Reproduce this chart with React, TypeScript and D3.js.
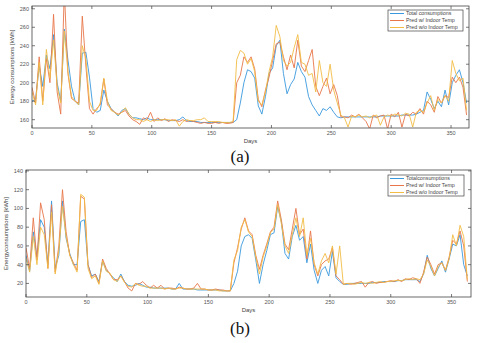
import React from 'react'
import * as d3 from 'd3'

// one sample every 3 days (day = index * STEP)
const STEP = 3

const A_TOTAL = [
  180, 182, 218, 196, 230, 215, 252, 200, 180, 258, 225, 196, 180, 176, 232, 233, 206, 172, 168, 170,
  192, 180, 172, 168, 164, 170, 172, 166, 162, 162, 161, 160, 162, 160, 160, 160, 160, 160, 159, 159,
  159, 160, 163, 159, 158, 158, 158, 157, 157, 157, 157, 157, 157, 157, 157, 157, 157, 160, 178, 200,
  214, 212, 205, 175, 166, 185, 210, 216, 240, 246, 210, 188, 198, 204, 222, 212, 206, 185, 176, 170,
  164, 172, 170, 174, 168, 163, 162, 163, 163, 163, 163, 163, 163, 163, 163, 163, 163, 164, 164, 164,
  164, 164, 164, 165, 165, 165, 165, 166, 168, 170, 190, 182, 172, 180, 174, 192, 176, 200, 208, 214,
  200, 178
]
const A_PRED_IN = [
  195, 178, 228, 180, 226, 200, 274, 190, 166, 300, 210, 183, 180, 178, 272, 218, 172, 166, 172, 176,
  204, 176, 172, 168, 166, 168, 170, 164, 160, 158, 155, 162, 160, 168, 158, 162, 159, 161, 158, 160,
  159, 158, 160, 158, 159, 158, 157, 156, 157, 156, 156, 157, 156, 157, 156, 156, 157, 200, 208, 228,
  222, 228, 215, 182, 174, 192, 206, 224, 242, 244, 228, 214, 230, 216, 246, 218, 212, 224, 236, 196,
  186, 196, 205, 188, 198, 186, 163, 163, 162, 165, 163, 166, 162, 158, 150, 165, 162, 164, 165, 150,
  166, 163, 168, 152, 166, 164, 168, 166, 172, 166, 180, 176, 168, 185, 178, 186, 184, 206, 200, 206,
  195, 165
]
const A_PRED_OUT = [
  190, 176, 222, 176, 236, 205, 246, 196, 178, 256, 212, 185, 180, 176, 240, 226, 180, 170, 170, 178,
  205, 180, 170, 168, 165, 168, 173, 166, 162, 160, 160, 158, 160, 158, 160, 159, 160, 160, 160, 159,
  160, 153, 158, 160, 159, 159, 160, 160, 162, 158, 158, 158, 158, 157, 157, 157, 158, 225, 235, 232,
  220, 226, 212, 180, 176, 190, 212, 228, 262, 250, 224, 218, 222, 238, 252, 222, 220, 208, 210, 190,
  224, 200, 196, 220, 192, 178, 165, 162, 152, 164, 163, 165, 163, 164, 162, 164, 165, 154, 163, 165,
  164, 166, 165, 164, 167, 166, 152, 168, 170, 168, 178, 186, 170, 182, 178, 186, 180, 224, 210, 202,
  205, 170
]

const B_TOTAL = [
  50, 33, 75, 48, 88, 80, 40, 108, 36, 50, 108, 68, 52, 40, 40, 86, 88, 40, 28, 30,
  22, 44, 34, 30, 26, 22, 30, 22, 18, 17, 18, 20, 18, 16, 16, 15, 15, 15, 15, 15,
  14, 14, 20, 14, 14, 14, 14, 13, 13, 13, 13, 13, 13, 13, 12, 12, 12, 20, 33, 60,
  70, 72, 68, 45, 20, 40, 55, 72, 74, 102, 86, 52, 46, 70, 82, 66, 70, 42, 62, 34,
  20, 34, 38, 28, 54, 26, 22, 19, 19, 20, 20, 20, 20, 20, 20, 21, 21, 21, 22, 22,
  22, 22, 23, 23, 24, 24, 24, 24, 22, 30, 50, 36, 28, 36, 44, 32, 46, 62, 60, 72,
  40, 28
]
const B_PRED_IN = [
  58, 36, 90, 45, 106, 88, 36, 104, 32, 60, 120, 75, 50, 42, 34, 113, 110, 40, 26, 30,
  20, 46, 36, 30, 24, 24, 28, 22, 15, 12, 20, 19, 22, 18, 15, 18, 15, 18, 14, 15,
  15, 14, 16, 15, 14, 14, 15, 20, 14, 14, 13, 13, 14, 13, 13, 12, 12, 42, 58, 78,
  90, 76, 72, 50, 35, 50, 62, 75, 80, 108, 88, 62, 56, 78, 100, 72, 78, 46, 76, 40,
  28, 40, 44, 46, 58, 28, 24, 19, 20, 19, 20, 21, 22, 16, 21, 22, 20, 21, 21, 22,
  23, 22, 24, 22, 25, 24, 26, 25, 20, 32, 48, 40, 30, 40, 42, 34, 48, 66, 62, 76,
  60, 22
]
const B_PRED_OUT = [
  47, 32, 70, 40, 80, 72, 36, 96, 30, 55, 102, 70, 50, 40, 32, 115, 112, 36, 25, 28,
  19, 44, 33, 31, 24, 22, 28, 21, 17, 16, 20, 18, 17, 17, 15, 15, 15, 15, 14, 15,
  14, 14, 15, 15, 14, 14, 14, 14, 14, 14, 13, 13, 13, 12, 12, 12, 12, 45, 55, 80,
  88, 75, 70, 48, 30, 48, 60, 74, 78, 104, 84, 60, 52, 72, 90, 70, 90, 50, 68, 42,
  30, 44, 52, 42, 60, 30, 60, 19, 20, 20, 19, 20, 21, 20, 21, 20, 21, 22, 21, 22,
  22, 23, 23, 23, 24, 25, 24, 25, 24, 30, 45, 38, 28, 38, 42, 34, 46, 72, 60, 82,
  70, 24
]

const SERIES_NAMES_A = ['Total consumptions', 'Pred w/ Indoor Temp', 'Pred w/o Indoor Temp']
const SERIES_NAMES_B = ['Totalconsumptions', 'Pred w/ Indoor Temp', 'Pred w/o Indoor Temp']
const COLORS = ['#3a98dc', '#e8764a', '#f2bc45']

const X_TICKS = [0, 50, 100, 150, 200, 250, 300, 350]
const Y_TICKS_A = [160, 180, 200, 220, 240, 260, 280]
const Y_TICKS_B = [20, 40, 60, 80, 100, 120, 140]

const FONT = "'Liberation Sans', Arial, sans-serif"

type PanelProps = {
  id: string
  box: { x0: number, x1: number, y0: number, y1: number }
  yDomain: [number, number]
  yTicks: number[]
  xMax: number
  series: number[][]
  names: string[]
  yLabel: string
  yLabelX: number
  legend: { x: number, y: number, w: number, h: number }
  caption: string
  captionY: number
}

const Panel = (p: PanelProps) => {
  const { box } = p
  const x = d3.scaleLinear().domain([0, p.xMax]).range([box.x0, box.x1])
  const y = d3.scaleLinear().domain(p.yDomain).range([box.y1, box.y0])
  const line = d3.line<number>()
    .x((v, i) => x(i * STEP))
    .y(v => y(v))

  const tl = 3 // tick length, inward
  const rowH = p.legend.h / 3

  return (
    <g>
      <defs>
        <clipPath id={`clip-${p.id}`}>
          <rect x={box.x0} y={box.y0} width={box.x1 - box.x0} height={box.y1 - box.y0} />
        </clipPath>
      </defs>
      <rect x={box.x0} y={box.y0} width={box.x1 - box.x0} height={box.y1 - box.y0} fill="#fff" />

      {/* lines */}
      <g clipPath={`url(#clip-${p.id})`}>
        {p.series.map((s, k) => (
          <path key={k} d={line(s) || ''} fill="none" stroke={COLORS[k]} strokeWidth={0.9} strokeLinejoin="round" />
        ))}
      </g>

      {/* frame + ticks */}
      <rect x={box.x0} y={box.y0} width={box.x1 - box.x0} height={box.y1 - box.y0} fill="none" stroke="#444" strokeWidth={0.8} />
      {X_TICKS.map(t => (
        <g key={'x' + t}>
          <line x1={x(t)} x2={x(t)} y1={box.y1} y2={box.y1 - tl} stroke="#444" strokeWidth={0.7} />
          <line x1={x(t)} x2={x(t)} y1={box.y0} y2={box.y0 + tl} stroke="#444" strokeWidth={0.7} />
          <text x={x(t)} y={box.y1 + 7} fontSize={5.5} textAnchor="middle" fill="#555" fontFamily={FONT}>{t}</text>
        </g>
      ))}
      {p.yTicks.map(t => (
        <g key={'y' + t}>
          <line x1={box.x0} x2={box.x0 + tl} y1={y(t)} y2={y(t)} stroke="#444" strokeWidth={0.7} />
          <line x1={box.x1} x2={box.x1 - tl} y1={y(t)} y2={y(t)} stroke="#444" strokeWidth={0.7} />
          <text x={box.x0 - 3} y={y(t) + 2} fontSize={5.5} textAnchor="end" fill="#555" fontFamily={FONT}>{t}</text>
        </g>
      ))}

      <text x={(box.x0 + box.x1) / 2} y={box.y1 + 15} fontSize={6} textAnchor="middle" fill="#444" fontFamily={FONT}>Days</text>
      <text transform={`translate(${p.yLabelX},${(box.y0 + box.y1) / 2}) rotate(-90)`} fontSize={6} textAnchor="middle" fill="#444" fontFamily={FONT}>{p.yLabel}</text>

      {/* legend */}
      <rect x={p.legend.x} y={p.legend.y} width={p.legend.w} height={p.legend.h} fill="#fff" stroke="#444" strokeWidth={0.7} />
      {p.names.map((n, k) => {
        const ry = p.legend.y + rowH * (k + 0.5)
        return (
          <g key={n}>
            <line x1={p.legend.x + 2} x2={p.legend.x + 16} y1={ry} y2={ry} stroke={COLORS[k]} strokeWidth={1} />
            <text x={p.legend.x + 18} y={ry + 1.8} fontSize={5.3} fill="#444" fontFamily={FONT}>{n}</text>
          </g>
        )
      })}

      <text x={240} y={p.captionY} fontSize={17} textAnchor="middle" fill="#111" fontFamily="'Liberation Serif', 'Times New Roman', serif">{p.caption}</text>
    </g>
  )
}

export default function App() {
  return (
    <svg width={480} height={343} style={{ position: 'absolute', left: 0, top: 0, background: '#fff' }}>
      <Panel
        id="a"
        box={{ x0: 32, x1: 469, y0: 6, y1: 128 }}
        yDomain={[151, 283]}
        yTicks={Y_TICKS_A}
        xMax={365}
        series={[A_TOTAL, A_PRED_IN, A_PRED_OUT]}
        names={SERIES_NAMES_A}
        yLabel="Energy consumptions [kWh]"
        yLabelX={14}
        legend={{ x: 388, y: 10, w: 75, h: 21 }}
        caption="(a)"
        captionY={162}
      />
      <Panel
        id="b"
        box={{ x0: 26, x1: 471, y0: 170, y1: 297 }}
        yDomain={[5.5, 141]}
        yTicks={Y_TICKS_B}
        xMax={366}
        series={[B_TOTAL, B_PRED_IN, B_PRED_OUT]}
        names={SERIES_NAMES_B}
        yLabel="Energyconsumptions [kWh]"
        yLabelX={8}
        legend={{ x: 388, y: 175, w: 76, h: 21 }}
        caption="(b)"
        captionY={334}
      />
    </svg>
  )
}
